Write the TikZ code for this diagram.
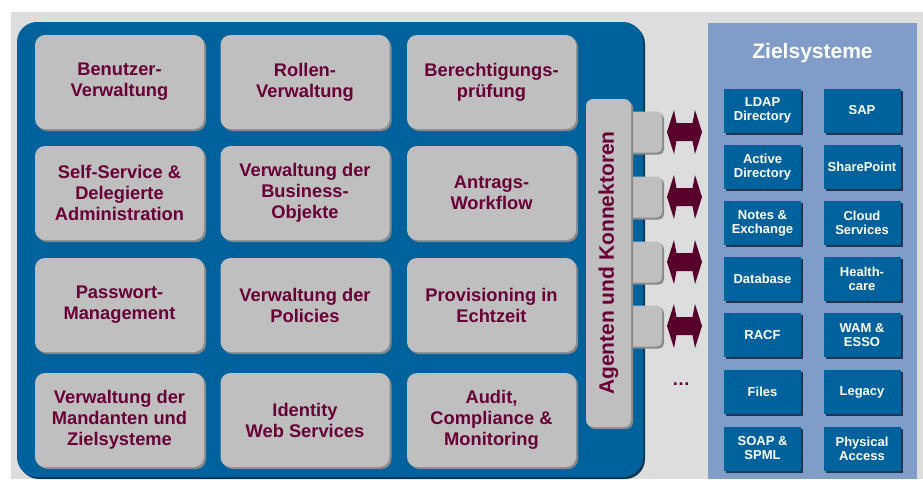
\documentclass[tikz,border=0pt]{standalone}
\usepackage{fontspec}
\setmainfont{Liberation Sans}
\usetikzlibrary{shadows}

\definecolor{bggray}{HTML}{DDDDDD}
\definecolor{coreblue}{HTML}{00629C}
\definecolor{coreshade}{HTML}{0D3558}
\definecolor{boxgray}{HTML}{BFBFBF}
\definecolor{boxshade}{HTML}{8A8A8A}
\definecolor{wine}{HTML}{680036}
\definecolor{winedark}{HTML}{58002C}
\definecolor{winelight}{HTML}{880048}
\definecolor{targetpanel}{HTML}{809CC8}
\definecolor{targetshade}{HTML}{1E3656}

\tikzset{
  funcbox/.style={fill=boxgray, rounded corners=10pt, align=center, text=wine,
    font=\bfseries\fontsize{18.3}{21}\selectfont, inner sep=0pt,
    minimum width=169pt, minimum height=94pt,
    drop shadow={shadow xshift=2pt, shadow yshift=-2pt, opacity=1, fill=boxshade}},
  tabbox/.style={fill=boxgray, rounded corners=5pt, minimum width=42pt, minimum height=41pt,
    drop shadow={shadow xshift=2pt, shadow yshift=-2pt, opacity=1, fill=boxshade}},
  targetbox/.style={fill=coreblue, align=center, text=white, inner sep=0pt,
    font=\bfseries\fontsize{13}{14}\selectfont, minimum width=77pt, minimum height=44pt,
    drop shadow={shadow xshift=2pt, shadow yshift=-2pt, opacity=1, fill=targetshade}},
  dblarrow/.style={top color=winedark, middle color=winelight, bottom color=winedark}
}

\begin{document}
\begin{tikzpicture}[x=1pt, y=-1pt]
	\useasboundingbox (0,0) rectangle (923,479);

	% Draw the background
	\fill[bggray] (11,12) rectangle (923,479);

	% Draw the blue panel
	\fill[coreshade, rounded corners=20pt] (19,24) rectangle (645,479);
	\fill[coreblue, rounded corners=20pt] (17,22) rectangle (643,477);

	% Draw the function boxes
	\node[funcbox] (benutzer) at (119.5,82) {Benutzer-\\Verwaltung};
	\node[funcbox] (rollen) at (305,82) {Rollen-\\Verwaltung};
	\node[funcbox] (pruefung) at (491.5,82) {Berechtigungs-\\prüfung};

	\node[funcbox] (selfservice) at (119.5,193) {Self-Service \&\\Delegierte\\Administration};
	\node[funcbox] (business) at (305,193) {Verwaltung der\\Business-\\Objekte};
	\node[funcbox] (antrag) at (491.5,193) {Antrags-\\Workflow};

	\node[funcbox] (passwort) at (119.5,305) {Passwort-\\Management};
	\node[funcbox] (policies) at (305,305) {Verwaltung der\\Policies};
	\node[funcbox] (provisioning) at (491.5,305) {Provisioning in\\Echtzeit};

	\node[funcbox] (mandanten) at (119.5,420) {Verwaltung der\\Mandanten und\\Zielsysteme};
	\node[funcbox] (webservices) at (305,420) {Identity\\Web Services};
	\node[funcbox] (audit) at (491.5,420) {Audit,\\Compliance \&\\Monitoring};

	% Draw the connector tabs
	\node[tabbox] (tab1) at (641,132) {};
	\node[tabbox] (tab2) at (641,197) {};
	\node[tabbox] (tab3) at (641,262) {};
	\node[tabbox] (tab4) at (641,326) {};

	% Draw the agent bar
	\node[funcbox, minimum width=45pt, minimum height=328pt, rounded corners=7pt] (agenten) at (608.5,263) {};
	\node[rotate=90, text=wine, font=\bfseries\fontsize{21}{24}\selectfont] (agentenlabel) at (agenten.center) {Agenten und Konnektoren};

	% Draw the double arrows
	\shade[dblarrow, shift={(684.5,132)}] (-17.5,0) -- (-10.5,-22) -- (-8,-9) -- (8,-9) -- (10.5,-22) -- (17.5,0) -- (10.5,22) -- (8,9) -- (-8,9) -- (-10.5,22) -- cycle;
	\shade[dblarrow, shift={(684.5,197)}] (-17.5,0) -- (-10.5,-22) -- (-8,-9) -- (8,-9) -- (10.5,-22) -- (17.5,0) -- (10.5,22) -- (8,9) -- (-8,9) -- (-10.5,22) -- cycle;
	\shade[dblarrow, shift={(684.5,262)}] (-17.5,0) -- (-10.5,-22) -- (-8,-9) -- (8,-9) -- (10.5,-22) -- (17.5,0) -- (10.5,22) -- (8,9) -- (-8,9) -- (-10.5,22) -- cycle;
	\shade[dblarrow, shift={(684.5,326)}] (-17.5,0) -- (-10.5,-22) -- (-8,-9) -- (8,-9) -- (10.5,-22) -- (17.5,0) -- (10.5,22) -- (8,9) -- (-8,9) -- (-10.5,22) -- cycle;

	\node[text=wine, font=\bfseries\fontsize{18}{20}\selectfont] (more) at (681,384) {\dots};

	% Draw the target panel
	\fill[targetpanel] (708,23) rectangle (917,479);
	\node[text=white, font=\bfseries\fontsize{21}{24}\selectfont] (ziel) at (812.5,53) {Zielsysteme};

	% Draw the target systems
	\node[targetbox] (ldap) at (762.5,110.5) {LDAP\\Directory};
	\node[targetbox] (sap) at (862,110.5) {SAP};
	\node[targetbox] (ad) at (762.5,167) {Active\\Directory};
	\node[targetbox] (sharepoint) at (862,167) {SharePoint};
	\node[targetbox] (notes) at (762.5,223) {Notes \&\\Exchange};
	\node[targetbox] (cloud) at (862,223) {Cloud\\Services};
	\node[targetbox] (database) at (762.5,279) {Database};
	\node[targetbox] (health) at (862,279) {Health-\\care};
	\node[targetbox] (racf) at (762.5,335) {RACF};
	\node[targetbox] (wam) at (862,335) {WAM \&\\ESSO};
	\node[targetbox] (files) at (762.5,392) {Files};
	\node[targetbox] (legacy) at (862,392) {Legacy};
	\node[targetbox] (soap) at (762.5,448.5) {SOAP \&\\SPML};
	\node[targetbox] (physical) at (862,448.5) {Physical\\Access};

\end{tikzpicture}
\end{document}
